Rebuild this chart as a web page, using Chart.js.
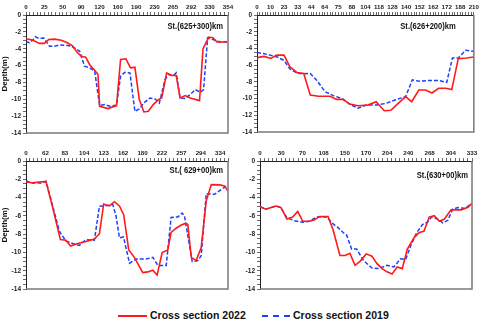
<!DOCTYPE html>
<html>
<head>
<meta charset="utf-8">
<script src="https://cdn.jsdelivr.net/npm/chart.js@4/dist/chart.umd.min.js"></script>
<style>
  body { margin: 0; background: #fff; width: 480px; height: 326px; position: relative; overflow: hidden; }
  canvas { position: absolute; }
  .leg-line { position: absolute; height: 0; }
  .leg-text { position: absolute; font: bold 10.5px 'Liberation Sans', Arial, sans-serif; color: #111; white-space: nowrap; }
</style>
</head>
<body>
<canvas id="c1" width="240" height="145" style="left:0;top:0"></canvas>
<canvas id="c2" width="240" height="145" style="left:240px;top:0"></canvas>
<canvas id="c3" width="240" height="150" style="left:0;top:145px"></canvas>
<canvas id="c4" width="240" height="150" style="left:240px;top:145px"></canvas>

<div class="leg-line" style="left:118px;top:315px;width:29px;border-top:2px solid #ff1a1a"></div>
<div class="leg-text" style="left:150px;top:309px">Cross section 2022</div>
<div class="leg-line" style="left:262px;top:315px;width:28px;border-top:2px dashed #1f3fff"></div>
<div class="leg-text" style="left:293px;top:309px">Cross section 2019</div>

<script>
// station 625+300
const p1Labels = ['0','25','50','90','120','160','190','230','265','292','330','354'];
const p1RedX = [0,0.36,0.73,1.0,1.24,1.55,1.92,2.28,2.55,2.77,3.01,3.25,3.47,3.74,3.92,4.01,4.47,4.93,5.15,5.44,5.69,5.93,6.17,6.42,6.66,6.93,7.21,7.39,7.66,7.94,8.18,8.39,8.67,8.94,9.45,9.64,9.95,10.18,10.4,10.95];
const p1RedY = [-2.82,-2.98,-3.37,-3.37,-2.9,-2.86,-3.0,-3.33,-3.7,-4.4,-4.9,-5.0,-5.9,-6.55,-7.06,-10.83,-11.1,-10.75,-5.28,-5.2,-6.27,-6.2,-10.04,-11.5,-11.43,-10.63,-10.04,-9.84,-6.87,-7.18,-7.18,-9.84,-9.56,-9.84,-10.16,-4.0,-2.62,-2.7,-3.21,-3.21];
const p1BlueX = [0,0.18,0.36,0.51,0.69,0.97,1.28,1.55,1.82,2.19,2.46,2.7,2.92,3.19,3.47,3.74,4.01,4.29,4.56,4.93,5.15,5.38,5.66,5.93,6.17,6.42,6.75,7.03,7.26,7.57,7.76,8.03,8.18,8.39,8.67,8.94,9.22,9.49,9.67,9.89,10.07,10.4,10.68,10.95];
const p1BlueY = [-3.1,-3.3,-3.0,-2.58,-2.78,-2.74,-3.7,-3.7,-3.57,-3.6,-3.7,-4.0,-4.3,-6.07,-6.27,-6.67,-10.75,-10.63,-10.83,-10.7,-7.26,-6.8,-6.87,-11.43,-11.15,-10.44,-9.84,-9.96,-10.44,-7.66,-7.06,-7.18,-6.87,-9.84,-9.92,-9.44,-8.85,-9.17,-8.85,-2.7,-2.82,-3.1,-3.21,-3.17];

// station 626+200
const p2Labels = ['0','10','23','33','44','64','75','88','104','118','128','140','152','162','172','188','210'];
const p2RedX = [0,0.53,1.02,1.46,1.99,2.43,2.96,3.45,3.93,4.54,5.39,5.87,6.36,6.84,7.45,8.18,8.79,9.39,9.88,10.36,10.97,11.41,11.94,12.43,12.91,13.4,13.93,14.37,14.85,15.46,16];
const p2RedY = [-5.1,-4.95,-5.2,-4.8,-4.8,-6.2,-6.9,-7.0,-9.57,-9.73,-9.73,-10.1,-10.1,-10.66,-10.86,-10.78,-10.38,-11.46,-11.4,-10.66,-9.77,-10.38,-8.97,-8.97,-9.33,-8.77,-8.77,-8.93,-5.23,-5.15,-5.03];
const p2BlueX = [0,0.53,1.02,1.5,1.99,2.43,2.96,3.45,3.93,4.42,5.02,5.63,6.24,6.84,7.45,8.06,8.79,9.51,10.24,10.97,11.46,11.94,12.67,13.4,14.0,14.42,14.85,15.4,16];
const p2BlueY = [-4.5,-4.63,-4.83,-5.03,-5.43,-6.44,-6.96,-7.04,-7.0,-7.84,-9.17,-9.65,-9.98,-10.66,-11.14,-10.78,-10.78,-10.58,-10.14,-9.77,-7.76,-7.92,-7.84,-7.84,-8.05,-5.15,-5.15,-4.22,-4.34];

// station 629+00
const p3Labels = ['0','62','83','104','123','162','180','222','257','294','334'];
const p3RedX = [0,0.34,0.69,1.03,1.37,1.77,2.06,2.29,2.66,3.09,3.52,3.78,4.0,4.3,4.55,4.81,5.03,5.29,5.58,6.01,6.27,6.53,6.75,7.01,7.3,7.47,7.73,7.99,8.21,8.33,8.51,8.76,9.02,9.28,9.54,9.97,10.22,10.4];
const p3RedY = [-2.3,-2.37,-2.3,-2.23,-5.05,-8.59,-8.66,-9.29,-9.01,-8.8,-8.52,-7.95,-4.7,-4.91,-4.45,-4.91,-5.87,-9.72,-10.53,-12.19,-12.12,-11.94,-12.47,-10.0,-9.72,-7.81,-7.35,-7.0,-6.82,-6.93,-10.53,-10.88,-9.47,-4.35,-2.58,-2.61,-2.72,-3.29];
const p3BlueX = [0,0.26,0.86,1.03,1.37,1.72,2.06,2.41,2.75,3.09,3.52,3.78,4.12,4.47,4.64,4.81,5.02,5.33,5.67,6.19,6.53,6.79,7.22,7.47,7.82,8.04,8.16,8.56,8.85,9.02,9.28,9.71,10.05,10.31];
const p3BlueY = [-2.16,-2.4,-2.4,-2.23,-4.88,-7.7,-8.76,-9.01,-9.22,-8.59,-8.66,-4.95,-4.88,-4.77,-6.04,-8.41,-8.3,-11.17,-10.71,-10.71,-10.53,-11.41,-11.41,-6.18,-6.11,-5.69,-6.04,-10.99,-10.88,-10.35,-3.57,-3.64,-3.11,-2.76];

// station 630+00
const p4Labels = ['0','30','70','108','150','170','204','240','268','304','333'];
const p4RedX = [0,0.27,0.75,0.99,1.27,1.54,1.78,2.02,2.34,2.58,2.81,3.21,3.45,3.77,4.01,4.24,4.48,4.72,5.01,5.28,5.52,5.76,5.99,6.23,6.47,6.71,6.95,7.27,7.5,7.74,7.98,8.22,8.46,8.7,9.01,9.49,9.81,10.0];
const p4RedY = [-4.99,-5.27,-4.92,-5.09,-6.34,-6.13,-5.52,-6.59,-6.59,-6.41,-6.06,-6.06,-7.55,-10.33,-10.33,-10.08,-11.4,-10.97,-10.15,-10.4,-11.22,-11.76,-12.11,-12.36,-11.58,-11.76,-9.62,-8.37,-7.84,-7.66,-6.13,-5.98,-6.59,-6.34,-5.34,-5.34,-5.06,-4.63];
const p4BlueX = [0,0.27,0.75,0.99,1.27,1.62,2.02,2.34,2.65,3.16,3.45,3.69,3.93,4.09,4.32,4.56,4.88,5.28,5.6,5.99,6.31,6.63,6.87,7.11,7.39,7.66,7.9,8.09,8.38,8.62,8.86,9.09,9.33,9.65,9.94];
const p4BlueY = [-4.99,-5.27,-4.92,-5.09,-6.2,-6.52,-6.7,-6.59,-6.13,-6.13,-6.88,-7.3,-7.84,-8.12,-9.62,-9.62,-10.87,-11.69,-11.76,-11.4,-11.58,-10.69,-10.76,-9.26,-7.84,-6.95,-6.7,-6.13,-6.34,-6.77,-6.48,-5.27,-5.09,-5.17,-4.74];

const yMin = -14, yMax = 0;
const SANS = "'Liberation Sans', Arial, sans-serif";

const pts = (xs, ys) => xs.map((x, i) => ({ x: x, y: ys[i] }));

// gray right/bottom border of each plot box
const frame = {
    id: 'frame',
    afterDraw(chart) {
        const { ctx, chartArea: a } = chart;
        ctx.save();
        ctx.strokeStyle = '#7a7a7a';
        ctx.lineWidth = 1.5;
        ctx.beginPath();
        ctx.moveTo(a.left, a.bottom);
        ctx.lineTo(a.right, a.bottom);
        ctx.lineTo(a.right, a.top);
        ctx.stroke();
        ctx.restore();
    }
};

// "St.(...)km" label inside the plot, squeezed a little like a narrow face
const station = {
    id: 'station',
    afterDraw(chart, args, opts) {
        const { ctx, chartArea: a } = chart;
        ctx.save();
        ctx.font = 'bold 9.5px ' + SANS;
        ctx.fillStyle = '#111';
        ctx.textAlign = 'right';
        ctx.textBaseline = 'middle';
        ctx.translate(a.right - opts.dx, a.top + opts.dy);
        ctx.scale(0.8, 1);
        ctx.fillText(opts.text, 0, 0);
        ctx.restore();
    }
};

function makePanel(id, labels, redX, redY, blueX, blueY, o) {
    new Chart(document.getElementById(id), {
        type: 'line',
        data: {
            datasets: [
                {
                    label: 'Cross section 2022',
                    data: pts(redX, redY),
                    borderColor: '#ff1a1a',
                    borderWidth: 1.6,
                    pointRadius: 0,
                    tension: 0
                },
                {
                    label: 'Cross section 2019',
                    data: pts(blueX, blueY),
                    borderColor: '#1f3fff',
                    borderWidth: 1.5,
                    borderDash: [4, 2],
                    pointRadius: 0,
                    tension: 0
                }
            ]
        },
        options: {
            responsive: false,
            animation: false,
            layout: { padding: { left: 0, top: 0, right: o.padRight, bottom: o.padBottom } },
            plugins: {
                legend: { display: false },
                tooltip: { enabled: false },
                station: { text: o.title, dx: o.dx, dy: o.dy }
            },
            scales: {
                x: {
                    type: 'linear',
                    position: 'top',
                    min: 0,
                    max: o.xMax,
                    afterFit: s => { s.height = o.xHeight; },
                    grid: { drawOnChartArea: false, tickLength: 3, color: '#444', lineWidth: 0.8 },
                    border: { display: true, color: '#222', width: 1 },
                    ticks: {
                        stepSize: 0.2,
                        includeBounds: false,
                        autoSkip: false,
                        maxRotation: 0,
                        padding: 1,
                        color: '#222',
                        font: { family: SANS, size: 6.2, weight: 'bold' },
                        callback: v => {
                            const i = Math.round(v);
                            return Math.abs(v - i) < 1e-6 && labels[i] !== undefined ? labels[i] : '';
                        }
                    }
                },
                y: {
                    min: yMin,
                    max: yMax,
                    afterFit: s => { s.width = o.yWidth; },
                    grid: { drawOnChartArea: false, tickLength: 3, color: '#444', lineWidth: 0.8 },
                    border: { display: true, color: '#222', width: 1 },
                    title: {
                        display: o.yTitle,
                        text: 'Depth(m)',
                        color: '#111',
                        padding: 0,
                        font: { family: SANS, size: 8, weight: 'bold' }
                    },
                    ticks: {
                        stepSize: 0.5,
                        autoSkip: false,
                        padding: 2,
                        color: '#222',
                        font: { family: SANS, size: 6.5, weight: 'bold' },
                        callback: v => {
                            const h = v / 2;
                            return Math.abs(h - Math.round(h)) < 1e-6 ? String(Math.round(v) || 0) : '';
                        }
                    }
                }
            }
        },
        plugins: [frame, station]
    });
}

makePanel('c1', p1Labels, p1RedX, p1RedY, p1BlueX, p1BlueY,
    { title: 'St.(625+300)km', xMax: 11, yWidth: 26, xHeight: 15, padRight: 12, padBottom: 12, yTitle: true, dx: 5, dy: 11 });
makePanel('c2', p2Labels, p2RedX, p2RedY, p2BlueX, p2BlueY,
    { title: 'St.(626+200)km', xMax: 16, yWidth: 17, xHeight: 15, padRight: 5, padBottom: 13, yTitle: false, dx: 18, dy: 11 });
makePanel('c3', p3Labels, p3RedX, p3RedY, p3BlueX, p3BlueY,
    { title: 'St.( 629+00)km', xMax: 10.4, yWidth: 26, xHeight: 16, padRight: 12, padBottom: 2, yTitle: true, dx: 5, dy: 9 });
makePanel('c4', p4Labels, p4RedX, p4RedY, p4BlueX, p4BlueY,
    { title: 'St.(630+00)km', xMax: 10, yWidth: 20, xHeight: 16, padRight: 8, padBottom: 2, yTitle: false, dx: 4, dy: 14 });
</script>
</body>
</html>
